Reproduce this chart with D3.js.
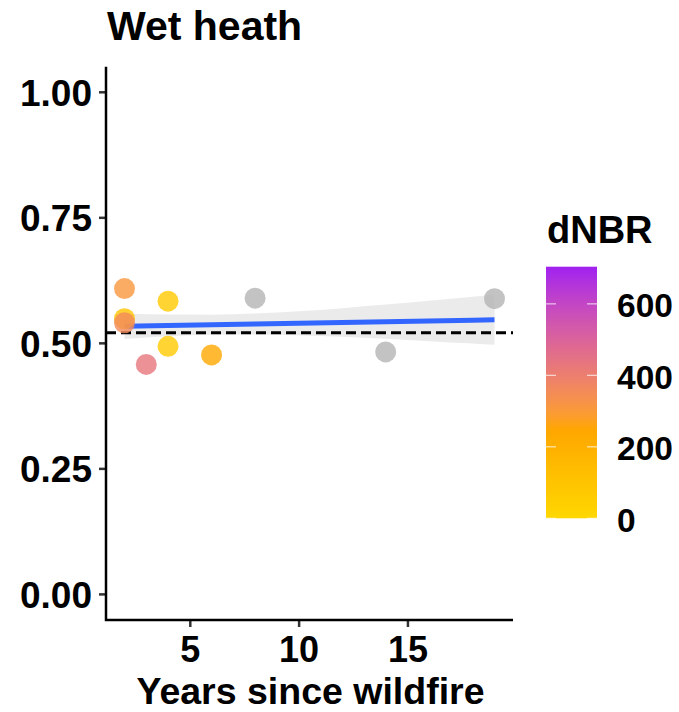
<!DOCTYPE html>
<html>
<head>
<meta charset="utf-8">
<script src="https://cdn.jsdelivr.net/npm/d3@7"></script>
<style>
  html, body { margin: 0; padding: 0; background: #fff; }
  svg { display: block; font-family: "Liberation Sans", Arial, Helvetica, sans-serif; font-weight: bold; }
</style>
</head>
<body>
<svg id="chart" width="679" height="712"></svg>
<script>
// ---- data ----
const years  = [2, 2, 2, 3, 4, 4, 6, 8, 14, 19];
const values = [0.608, 0.548, 0.540, 0.457, 0.583, 0.493, 0.476, 0.589, 0.482, 0.588];
const dnbr   = [310, 100, 360, 430, 75, 75, 240, null, null, null];

const fitX  = [2, 4, 6, 8, 10, 12, 14, 16, 18, 19];
const fitY  = [0.5331, 0.5346, 0.5361, 0.5376, 0.5391, 0.5406, 0.5421, 0.5436, 0.5451, 0.5459];
const fitLo = [0.5076, 0.5129, 0.5161, 0.5168, 0.5153, 0.5121, 0.5080, 0.5034, 0.4985, 0.4960];
const fitHi = [0.5586, 0.5563, 0.5561, 0.5584, 0.5629, 0.5691, 0.5762, 0.5838, 0.5917, 0.5958];

const refLine = 0.52;
const xTicks = [5, 10, 15];
const yTicks = [0, 0.25, 0.5, 0.75, 1.0];
const legendTicks = [0, 200, 400, 600];
const colourStops = [0, 256, 704];
const colourRange = ["#FFD700", "#FFA500", "#A020F0"];

const title = "Wet heath";
const xTitle = "Years since wildfire";
const legendTitle = "dNBR";

// ---- layout ----
const svg = d3.select("#chart");
const panel = { left: 106, right: 513, top: 66.7, bottom: 619 };

const x = d3.scaleLinear().domain([1.15, 19.85]).range([panel.left, panel.right]);
const y = d3.scaleLinear().domain([-0.05, 1.05]).range([panel.bottom, panel.top]);
const colour = d3.scaleLinear().domain(colourStops).range(colourRange).interpolate(d3.interpolateLab);

// band
const band = fitX.map((d, i) => ({ x: d, lo: fitLo[i], hi: fitHi[i], y: fitY[i] }));
svg.append("path")
  .datum(band)
  .attr("d", d3.area().x(d => x(d.x)).y0(d => y(d.lo)).y1(d => y(d.hi)).curve(d3.curveMonotoneX))
  .attr("fill", "#999999").attr("fill-opacity", 0.2);

// fit line
svg.append("path")
  .datum(band)
  .attr("d", d3.line().x(d => x(d.x)).y(d => y(d.y)))
  .attr("fill", "none").attr("stroke", "#3366FF").attr("stroke-width", 5);

// reference line
svg.append("line")
  .attr("x1", panel.left).attr("x2", panel.right)
  .attr("y1", y(refLine)).attr("y2", y(refLine))
  .attr("stroke", "#000").attr("stroke-width", 3)
  .attr("stroke-dasharray", "10,5");

// points
const pts = years.map((d, i) => ({ x: d, y: values[i], c: dnbr[i] }));
svg.append("g").selectAll("circle").data(pts).join("circle")
  .attr("cx", d => x(d.x)).attr("cy", d => y(d.y)).attr("r", 10.5)
  .attr("fill", d => d.c == null ? "#B4B4B4" : colour(d.c))
  .attr("fill-opacity", 0.8);

// axes
const yAxis = svg.append("g").attr("transform", `translate(${panel.left},0)`)
  .call(d3.axisLeft(y).tickValues(yTicks).tickFormat(d3.format(".2f")).tickSize(7).tickPadding(7));
const xAxis = svg.append("g").attr("transform", `translate(0,${panel.bottom + 1})`)
  .call(d3.axisBottom(x).tickValues(xTicks).tickFormat(d3.format("d")).tickSize(7).tickPadding(9));

[yAxis, xAxis].forEach(g => {
  g.select(".domain").remove();
  g.selectAll(".tick line").attr("stroke", "#333").attr("stroke-width", 2.5);
  g.selectAll(".tick text").attr("fill", "#000")
    .attr("font-family", "'Liberation Sans', Arial, sans-serif").attr("font-weight", "bold");
});
yAxis.selectAll(".tick text").attr("font-size", 37).attr("dy", "0.36em");
xAxis.selectAll(".tick text").attr("font-size", 36).attr("dy", "0.72em");

// axis lines
svg.append("path")
  .attr("d", `M${panel.left},${panel.top}V${panel.bottom + 1}H${panel.right}`)
  .attr("fill", "none").attr("stroke", "#000").attr("stroke-width", 2.5);

// titles
svg.append("text").attr("x", 107).attr("y", 39.5).attr("font-size", 41).text(title);
svg.append("text").attr("x", (panel.left + panel.right) / 2 + 1).attr("y", 704)
  .attr("text-anchor", "middle").attr("font-size", 37.5).text(xTitle);

// legend
const lg = { x: 546, w: 51, top: 266.7, bottom: 518.3 };
const ly = d3.scaleLinear().domain([0, 704]).range([lg.bottom, lg.top]);
const defs = svg.append("defs");
const grad = defs.append("linearGradient").attr("id", "lgrad")
  .attr("x1", 0).attr("y1", 1).attr("x2", 0).attr("y2", 0);
d3.range(0, 41).forEach(i => {
  const v = 704 * i / 40;
  grad.append("stop").attr("offset", i / 40).attr("stop-color", colour(v));
});
svg.append("rect").attr("x", lg.x).attr("y", lg.top).attr("width", lg.w)
  .attr("height", lg.bottom - lg.top).attr("fill", "url(#lgrad)");
const lt = svg.append("g");
legendTicks.forEach(t => {
  lt.append("line").attr("x1", lg.x).attr("x2", lg.x + 10).attr("y1", ly(t)).attr("y2", ly(t))
    .attr("stroke", "#fff").attr("stroke-opacity", 0.7).attr("stroke-width", 1.2);
  lt.append("line").attr("x1", lg.x + lg.w - 10).attr("x2", lg.x + lg.w).attr("y1", ly(t)).attr("y2", ly(t))
    .attr("stroke", "#fff").attr("stroke-opacity", 0.7).attr("stroke-width", 1.2);
  lt.append("text").attr("x", 617).attr("y", ly(t) + 1.5).attr("dy", "0.36em")
    .attr("font-size", 33.5).text(t);
});
svg.append("text").attr("x", 547).attr("y", 243).attr("font-size", 38).text(legendTitle);
</script>
</body>
</html>
